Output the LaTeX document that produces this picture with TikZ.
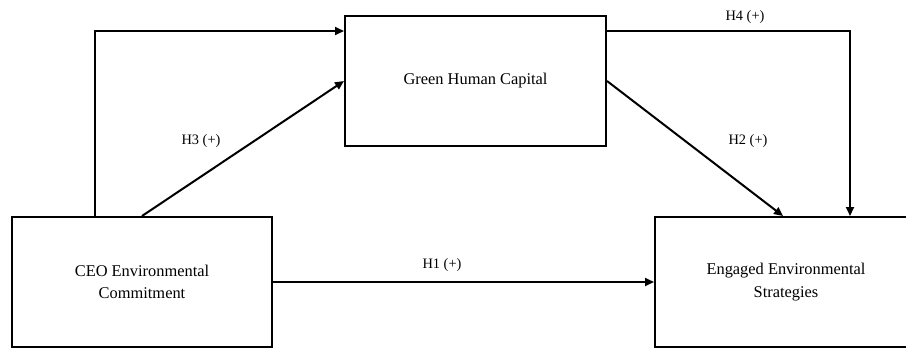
\documentclass[tikz,border=0pt]{standalone}
\usepackage{fontspec}
\setmainfont{Liberation Serif}
\usetikzlibrary{arrows.meta}

\begin{document}
\begin{tikzpicture}[x=0.5pt,y=-0.5pt,
	box/.style={draw,line width=1pt,minimum width=130pt,minimum height=65pt,
		align=center,font=\fontsize{8.2}{11.3}\selectfont},
	link/.style={line width=1pt,-{Triangle[length=4.5pt,width=4pt]}},
	hyp/.style={font=\fontsize{7.2}{9}\selectfont}]
	\useasboundingbox (0,0) rectangle (906,348);
	
	\node[box] (ceo) at (142,282) {CEO Environmental\\Commitment};
	\node[box,minimum width=130.5pt] (ghc) at (475.5,81) {Green Human Capital};
	\node[box,minimum width=131pt] (ees) at (786,282) {Engaged Environmental\\Strategies};
	
	\draw[link] ([xshift=42pt]ceo.north west) |- ([yshift=-8pt]ghc.north west);
	\draw[link] (ceo.north) -- (ghc.west);
	\draw[link] (ceo.east) -- (ees.west);
	\draw[link] (ghc.east) -- ([xshift=-1.5pt]ees.north);
	\draw[link] ([yshift=-8pt]ghc.north east) -| ([xshift=98pt]ees.north west);
	
	\node[hyp] (h3) at (201,141) {H3 (+)};
	\node[hyp] (h1) at (442,265) {H1 (+)};
	\node[hyp] (h2) at (748,141) {H2 (+)};
	\node[hyp] (h4) at (745,17) {H4 (+)};
\end{tikzpicture}
\end{document}
